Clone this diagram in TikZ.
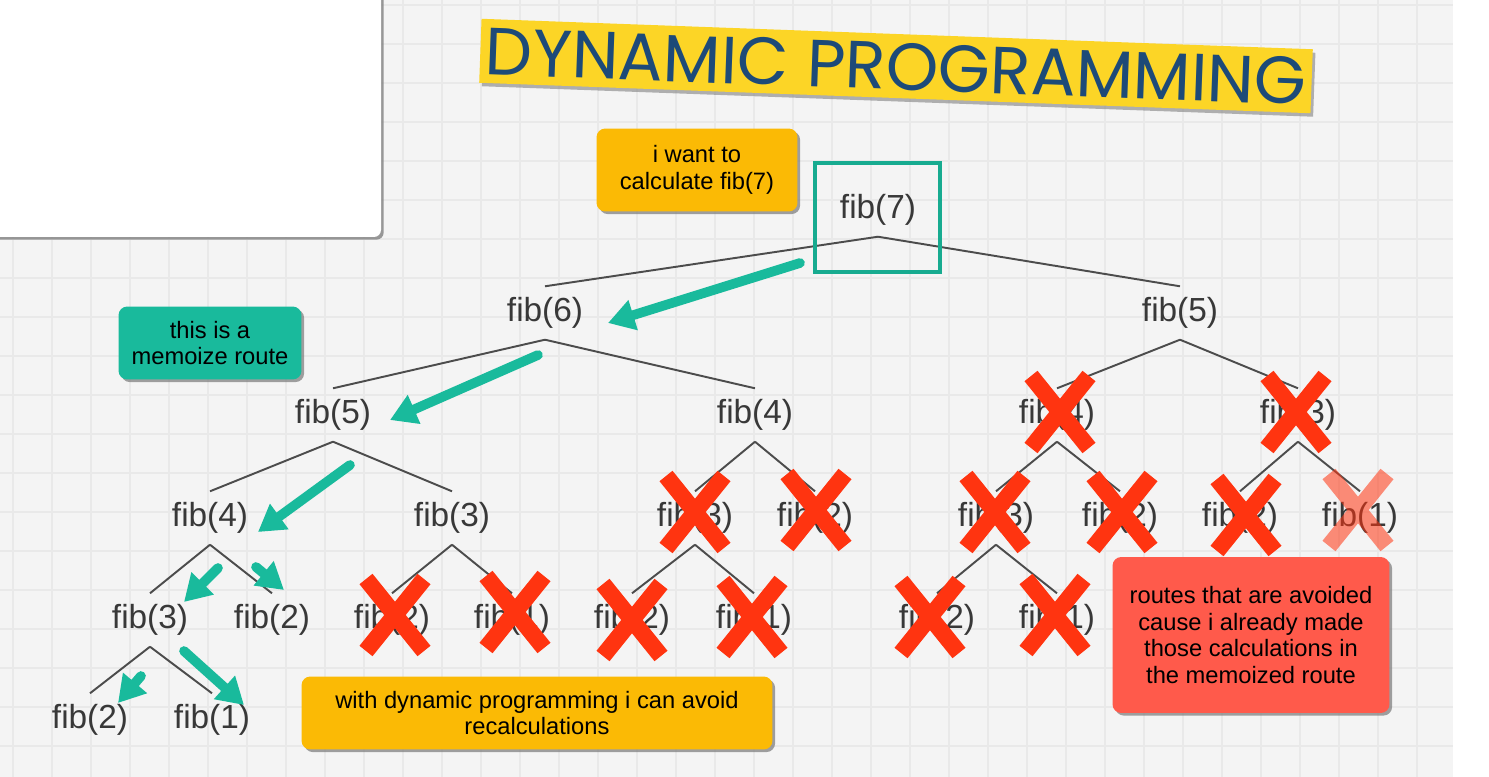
\documentclass[tikz,border=0pt]{standalone}
\usepackage{fontspec}
\setmainfont{Liberation Sans}
\newfontfamily\titlefont{Poppins}
\usetikzlibrary{arrows.meta,shadows}

\definecolor{memoteal}{HTML}{19BA9C}
\definecolor{boxorange}{HTML}{FBBA05}
\definecolor{boxred}{HTML}{FF5A4B}
\definecolor{crossred}{HTML}{FF3410}
\definecolor{titleyellow}{HTML}{FCD526}
\definecolor{titleblue}{HTML}{1D4A78}
\definecolor{gridline}{HTML}{E9E9E9}
\definecolor{gridbg}{HTML}{F4F4F4}

% red cross over a call that is skipped
\newcommand{\strike}[2][]{\draw[cross,#1,shift={(#2)}] (29,-36) -- (-29,36) (-29,-36) -- (29,36);}

\begin{document}
\begin{tikzpicture}[
    x=0.02cm, y=-0.02cm,
    fib/.style={text=black!78, font=\fontsize{19}{22}\selectfont, inner xsep=1pt, inner ysep=6pt, text height=14pt, text depth=4pt},
    edge/.style={draw=black!70, line width=1.1pt},
    memo/.style={draw=memoteal, line width=5.5pt, line cap=round, -{Triangle[length=15pt,width=17pt]}},
    cross/.style={draw=crossred, line width=9.5pt},
    note/.style={rounded corners=5pt, align=center, inner sep=0pt, font=\fontsize{13.5}{15.3}\selectfont, drop shadow={shadow xshift=1.5pt, shadow yshift=-1.5pt, opacity=.75}}
]
\useasboundingbox (0,0) rectangle (1489,777);
\fill[white] (0,0) rectangle (1489,777);
\fill[gridbg] (0,0) rectangle (1453,777);
\foreach \gx in {13,52,...,1453} \draw[gridline, line width=1.2pt] (\gx,0) -- (\gx,777);
\foreach \gy in {5,44,...,777} \draw[gridline, line width=1.2pt] (0,\gy) -- (1453,\gy);

% blank panel, top left
\fill[white, rounded corners=4pt, drop shadow={shadow xshift=1.5pt, shadow yshift=-1.5pt, opacity=.8}] (-10,-10) rectangle (381,237);

% title
\node[rotate=-2.1, fill=titleyellow, minimum width=16.64cm, minimum height=1.28cm, inner sep=0pt,
      text=titleblue, font=\titlefont\fontsize{38}{40}\selectfont, text height=27pt, text depth=0pt,
      drop shadow={shadow xshift=1.5pt, shadow yshift=-2pt, opacity=.6}] (title) at (896,66) {DYNAMIC PROGRAMMING};

% the call tree
\node[fib] (f7) at (878,210) {fib(7)};
\node[fib] (f6) at (545,313) {fib(6)};
\node[fib] (f5r) at (1180,313) {fib(5)};
\node[fib] (f5) at (333,415) {fib(5)};
\node[fib] (f4m) at (755,415) {fib(4)};
\node[fib] (f4r) at (1057,415) {fib(4)};
\node[fib] (f3r) at (1298,415) {fib(3)};
\node[fib] (f4) at (210,518) {fib(4)};
\node[fib] (f3m) at (452,518) {fib(3)};
\node[fib] (f3n) at (695,518) {fib(3)};
\node[fib] (f2n) at (815,518) {fib(2)};
\node[fib] (f3q) at (996,518) {fib(3)};
\node[fib] (f2q) at (1120,518) {fib(2)};
\node[fib] (f2r) at (1240,518) {fib(2)};
\node[fib] (f1r) at (1360,518) {fib(1)};
\node[fib] (f3) at (150,620) {fib(3)};
\node[fib] (f2) at (272,620) {fib(2)};
\node[fib] (f2m) at (392,620) {fib(2)};
\node[fib] (f1m) at (512,620) {fib(1)};
\node[fib] (f2o) at (632,620) {fib(2)};
\node[fib] (f1o) at (754,620) {fib(1)};
\node[fib] (f2p) at (937,620) {fib(2)};
\node[fib] (f1p) at (1057,620) {fib(1)};
\node[fib] (f2b) at (90,720) {fib(2)};
\node[fib] (f1b) at (212,720) {fib(1)};

\draw[edge] (f7.south) -- (f6.north);
\draw[edge] (f7.south) -- (f5r.north);
\draw[edge] (f6.south) -- (f5.north);
\draw[edge] (f6.south) -- (f4m.north);
\draw[edge] (f5r.south) -- (f4r.north);
\draw[edge] (f5r.south) -- (f3r.north);
\draw[edge] (f5.south) -- (f4.north);
\draw[edge] (f5.south) -- (f3m.north);
\draw[edge] (f4m.south) -- (f3n.north);
\draw[edge] (f4m.south) -- (f2n.north);
\draw[edge] (f4r.south) -- (f3q.north);
\draw[edge] (f4r.south) -- (f2q.north);
\draw[edge] (f3r.south) -- (f2r.north);
\draw[edge] (f3r.south) -- (f1r.north);
\draw[edge] (f4.south) -- (f3.north);
\draw[edge] (f4.south) -- (f2.north);
\draw[edge] (f3m.south) -- (f2m.north);
\draw[edge] (f3m.south) -- (f1m.north);
\draw[edge] (f3n.south) -- (f2o.north);
\draw[edge] (f3n.south) -- (f1o.north);
\draw[edge] (f3q.south) -- (f2p.north);
\draw[edge] (f3q.south) -- (f1p.north);
\draw[edge] (f3.south) -- (f2b.north);
\draw[edge] (f3.south) -- (f1b.north);

% highlight round the first call
\draw[draw=memoteal!92!black, line width=2.3pt] (815,163) rectangle (940,272);

% memoized route
\coordinate (m1s) at (800,263); \coordinate (m1e) at (608,323);
\coordinate (m2s) at (538,355); \coordinate (m2e) at (390,420);
\coordinate (m3s) at (350,465); \coordinate (m3e) at (258,532);
\coordinate (m4s) at (218,568); \coordinate (m4e) at (184,602);
\coordinate (m5s) at (256,567); \coordinate (m5e) at (284,590);
\coordinate (m6s) at (184,651); \coordinate (m6e) at (244,705);
\coordinate (m7s) at (141,676); \coordinate (m7e) at (118,703);
\draw[memo] (m1s) -- (m1e);
\draw[memo] (m2s) -- (m2e);
\draw[memo] (m3s) -- (m3e);
\draw[memo] (m4s) -- (m4e);
\draw[memo] (m5s) -- (m5e);
\draw[memo] (m6s) -- (m6e);
\draw[memo] (m7s) -- (m7e);

% skipped calls
\strike{1060,412}
\strike{1296,412}
\strike{995,512}
\strike{1122,512}
\strike{1246,515}
\strike[opacity=.55]{1358,510}
\strike{695,512}
\strike{816,510}
\strike{632,620}
\strike{752,617}
\strike{395,615}
\strike{515,612}
\strike{930,617}
\strike{1055,615}

% notes
\node[note, fill=boxorange, minimum width=4.02cm, minimum height=1.66cm] (want) at (697,170) {i want to\\calculate fib(7)};
\node[note, fill=memoteal, minimum width=3.66cm, minimum height=1.46cm] (route) at (210,343) {this is a\\memoize route};
\node[note, fill=boxorange, minimum width=9.42cm, minimum height=1.46cm] (avoid) at (537,713) {with dynamic programming i can avoid\\recalculations};
\node[note, fill=boxred, minimum width=5.54cm, minimum height=3.12cm] (avoided) at (1251,635) {routes that are avoided\\cause i already made\\those calculations in\\the memoized route};
\end{tikzpicture}
\end{document}
